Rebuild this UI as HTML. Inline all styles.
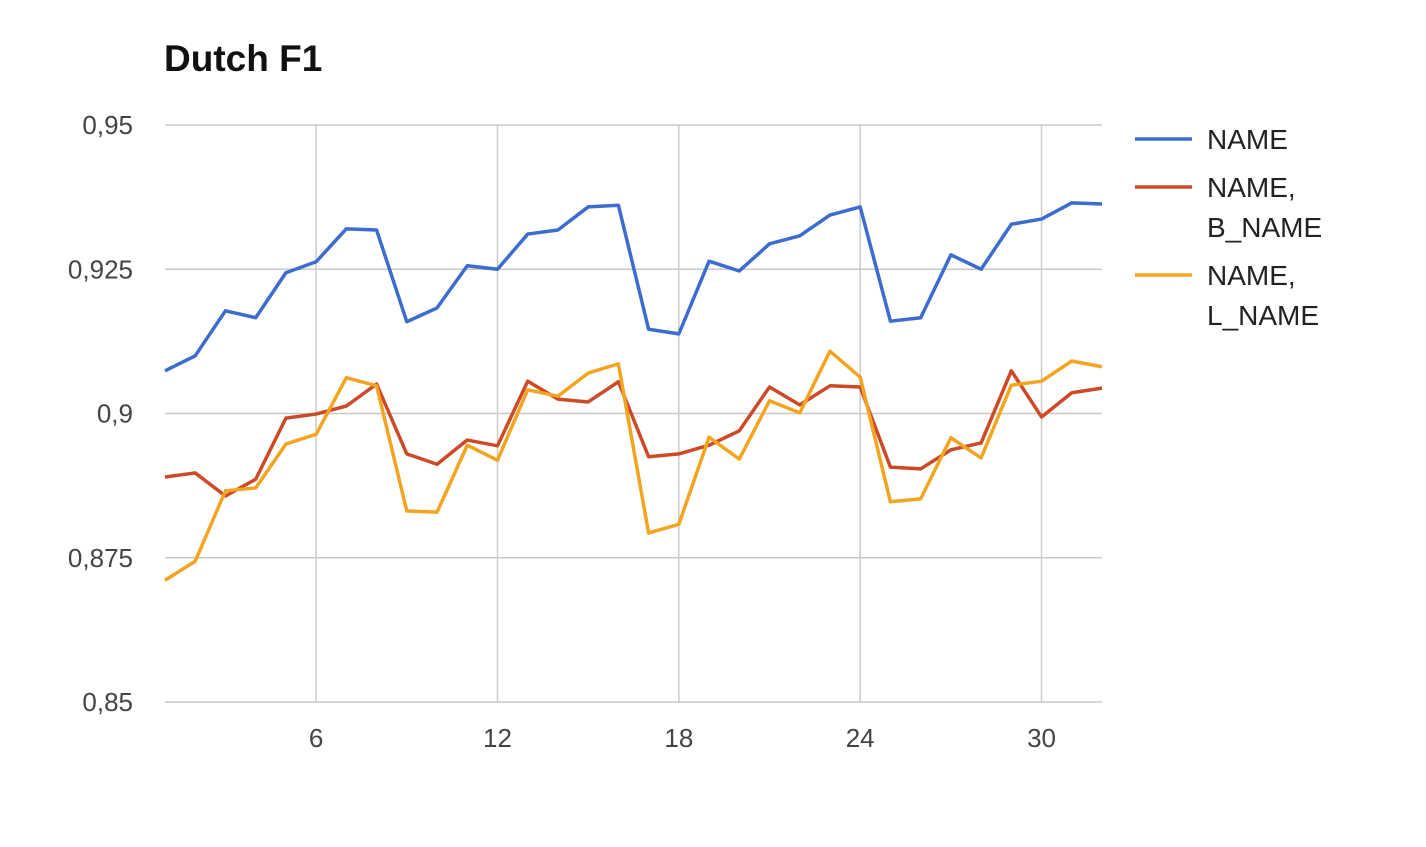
<!DOCTYPE html>
<html><head><meta charset="utf-8"><style>
html,body{margin:0;padding:0;background:#fff;}
svg text{font-family:"Liberation Sans",Arial,sans-serif;}
</style></head><body>
<svg id="chart" width="1426" height="842" viewBox="0 0 1426 842">
<text x="164" y="71" font-size="37" font-weight="bold" fill="#111">Dutch F1</text>
<g id="grid"></g>
<g id="yaxis"></g>
<g id="xaxis"></g>
<g id="series"></g>
<g id="legend"></g>
</svg>
<script>
const xs = Array.from({length:32},(_,i)=>i+1);
const nameSeries = [0.9074,0.9100,0.9178,0.9166,0.9244,0.9263,0.9320,0.9318,0.9159,0.9183,0.9256,0.9250,0.9311,0.9318,0.9358,0.9361,0.9146,0.9138,0.9264,0.9247,0.9294,0.9308,0.9344,0.9358,0.9160,0.9166,0.9275,0.9250,0.9328,0.9337,0.9365,0.9363];
const bNameSeries = [0.8890,0.8897,0.8857,0.8886,0.8992,0.8999,0.9013,0.9051,0.8930,0.8912,0.8954,0.8944,0.9056,0.9025,0.9020,0.9055,0.8925,0.8930,0.8945,0.8970,0.9046,0.9015,0.9048,0.9046,0.8907,0.8904,0.8937,0.8949,0.9074,0.8994,0.9036,0.9044];
const lNameSeries = [0.8711,0.8744,0.8866,0.8871,0.8947,0.8964,0.9062,0.9048,0.8831,0.8829,0.8945,0.8919,0.9041,0.9030,0.9070,0.9086,0.8793,0.8808,0.8959,0.8921,0.9022,0.9001,0.9108,0.9063,0.8847,0.8852,0.8958,0.8923,0.9049,0.9056,0.9091,0.9081];
const yTicks = [0.85,0.875,0.9,0.925,0.95];
const yTickLabels = ["0,85","0,875","0,9","0,925","0,95"];
const xTicks = [6,12,18,24,30];
const xTickLabels = ["6","12","18","24","30"];
const seriesNames = [["NAME"],["NAME,","B_NAME"],["NAME,","L_NAME"]];

const NS="http://www.w3.org/2000/svg";
const L=165,R=1102,T=125,B=702;
const xS=v=>L+(v-1)*(R-L)/31;
const yS=v=>B-(v-0.85)*(B-T)/0.1;
function mk(tag,attrs,parent){const e=document.createElementNS(NS,tag);for(const k in attrs)e.setAttribute(k,attrs[k]);parent.appendChild(e);return e;}
const grid=document.getElementById('grid'),ya=document.getElementById('yaxis'),xa=document.getElementById('xaxis'),sg=document.getElementById('series'),lg=document.getElementById('legend');
yTicks.forEach((t,i)=>{
  const ln=mk('line',{x1:L,x2:R,y1:yS(t),y2:yS(t),stroke:'#c8c8c8','stroke-width':1.5},grid);
  
  
  const tx=mk('text',{x:133,y:yS(t)+9,'font-size':26,fill:'#444','text-anchor':'end'},ya);
  tx.textContent=yTickLabels[i];
  
  
});
xTicks.forEach((t,i)=>{
  const ln=mk('line',{x1:xS(t),x2:xS(t),y1:T,y2:B,stroke:'#ccc','stroke-width':1.5},grid);
  
  
  const tx=mk('text',{x:xS(t),y:747,'font-size':26,fill:'#444','text-anchor':'middle'},xa);
  tx.textContent=xTickLabels[i];
  
  
});
const colors=['#3d6ccf','#cc4a28','#f3a420'];
const lineNames=['series-name','series-name-b-name','series-name-l-name'];
[nameSeries,bNameSeries,lNameSeries].forEach((s,k)=>{
  const p=mk('polyline',{points:s.map((v,i)=>xS(xs[i])+','+yS(v)).join(' '),fill:'none',stroke:colors[k],'stroke-width':3.5,'stroke-linejoin':'round'},sg);
  
  
});
const ly=[139,187,275];
seriesNames.forEach((n,k)=>{
  const g=mk('g',{},lg);
  
  
  mk('line',{x1:1135,x2:1192,y1:ly[k],y2:ly[k],stroke:colors[k],'stroke-width':3.5},g);
  n.forEach((line,j)=>{
    const t=mk('text',{x:1207,y:ly[k]+10+j*40,'font-size':28,fill:'#222'},g);
    t.textContent=line;
  });
});
</script>
</body></html>
